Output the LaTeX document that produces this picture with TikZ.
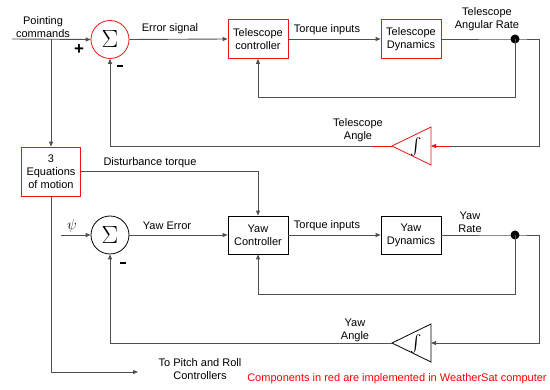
\documentclass[tikz,border=0pt]{standalone}
\usepackage{graphicx}
\usepackage{fontspec}
\setmainfont{Liberation Sans}
\usetikzlibrary{arrows.meta}
\definecolor{wiregray}{RGB}{80,80,80}
\definecolor{compred}{RGB}{235,20,20}
\begin{document}
\begin{tikzpicture}[x=1pt,y=-1pt,
  every node/.style={font=\fontsize{11}{13}\selectfont},
  wire/.style={draw=wiregray,line width=0.9pt},
  redwire/.style={draw=compred,line width=0.9pt},
  arr/.style={-{Triangle[length=5pt,width=4pt]}},
  rbox/.style={draw=compred,line width=0.8pt,minimum width=60pt,minimum height=39pt,align=center,inner sep=1pt},
  kbox/.style={draw=black,line width=0.8pt,minimum width=60pt,minimum height=38pt,align=center,inner sep=1pt},
  sumr/.style={circle,draw=compred,line width=0.8pt,minimum size=38pt,inner sep=0pt,font=\fontsize{23}{26}\selectfont},
  sumk/.style={circle,draw=black,line width=0.8pt,minimum size=38pt,inner sep=0pt,font=\fontsize{23}{26}\selectfont},
  lbl/.style={align=center,inner sep=0pt},
  intsym/.style={inner sep=0pt,font=\fontsize{11}{13}\selectfont}
]
\useasboundingbox (0,0) rectangle (550,390);

% ---------- top loop ----------
\coordinate (pin) at (12,39);
\node[sumr] (s1) at (110,39.5) {$\Sigma$};
\node[rbox] (tc) at (258,39) {Telescope\\controller};
\node[rbox] (td) at (411,39) {Telescope\\Dynamics};
\coordinate (d1) at (515,39);
\coordinate (i1tip) at (392,146);
\coordinate (i1in) at (431,146);
\draw[compred,line width=0.8pt] (i1tip) -- (431,127) -- (431,165) -- cycle;
\node[intsym] (int1) at (416,147) {\scalebox{1.7}{$\int$}};

\node[lbl] (lpc) at (43,27) {Pointing\\commands};
\node[lbl,font=\fontsize{17}{17}\selectfont\bfseries] (plus1) at (79,50) {+};
\node[lbl] (minus1) at (120,66) {\rule{6pt}{1.8pt}};
\node[lbl] (les) at (170,29) {Error signal};
\node[lbl] (lti1) at (327,30) {Torque inputs};
\node[lbl] (ltar) at (487,19) {Telescope\\Angular Rate};
\node[lbl] (lta) at (358,130) {Telescope\\Angle};

\draw[wire,arr] (pin) -- (s1.west);
\draw[wire,arr] (s1.east) -- (tc.west);
\draw[wire,arr] (tc.east) -- (td.west);
\draw[wire] (td.east) -- (d1) -- (539,39) -- (539,146) -- (450,146);
\draw[redwire,arr] (450,146) -- (i1in);
\fill[black] (d1) circle (4.5pt);
\draw[wire,arr] (d1) -- (515,97) -- (258,97) -- (tc.south);
\draw[redwire] (i1tip) -- (372,146);
\draw[wire,arr] (372,146) -- (110,146) -- (s1.south);

% ---------- equations of motion ----------
\node[rbox,minimum width=59pt,minimum height=49pt] (eq) at (51,171.5) {3\\Equations\\of motion};
\draw[wire,arr] (51,39) -- (eq.north);
\node[lbl] (ldt) at (150,163) {Disturbance torque};
\coordinate (pr) at (138,372);
\draw[wire,arr] (eq.south) -- (51,372) -- (pr);
\node[lbl] (lpr) at (200,369.5) {To Pitch and Roll\\Controllers};

% ---------- bottom loop ----------
\coordinate (pin2) at (61,235);
\node[sumk] (s2) at (110,235) {$\Sigma$};
\node[kbox] (yc) at (258,235) {Yaw\\Controller};
\node[kbox] (yd) at (411,235) {Yaw\\Dynamics};
\coordinate (d2) at (515,235);
\coordinate (i2tip) at (392,343);
\coordinate (i2in) at (431,343);
\draw[black,line width=0.8pt] (i2tip) -- (431,324) -- (431,362) -- cycle;
\node[intsym] (int2) at (416,344) {\scalebox{1.7}{$\int$}};

\node[lbl,font=\fontsize{15}{15}\selectfont] (lpsi) at (72,226) {$\psi$};
\node[lbl] (minus2) at (123,263) {\rule{6pt}{1.8pt}};
\node[lbl] (lye) at (167,226) {Yaw Error};
\node[lbl] (lti2) at (327,226) {Torque inputs};
\node[lbl] (lyr) at (470,222.5) {Yaw\\Rate};
\node[lbl] (lya) at (355,330.5) {Yaw\\Angle};

\draw[wire,arr] (eq.east) -- (258,171.5) -- (yc.north);
\draw[wire,arr] (pin2) -- (s2.west);
\draw[wire,arr] (s2.east) -- (yc.west);
\draw[wire,arr] (yc.east) -- (yd.west);
\draw[wire] (yd.east) -- (d2) -- (539,235) -- (539,343) -- (450,343);
\draw[wire,arr] (450,343) -- (i2in);
\fill[black] (d2) circle (4.5pt);
\draw[wire,arr] (d2) -- (515,294) -- (258,294) -- (yc.south);
\draw[wire,arr] (i2tip) -- (110,343) -- (s2.south);

\node[lbl,text=red] (cap) at (397,379) {Components in red are implemented in WeatherSat computer};
\end{tikzpicture}
\end{document}
